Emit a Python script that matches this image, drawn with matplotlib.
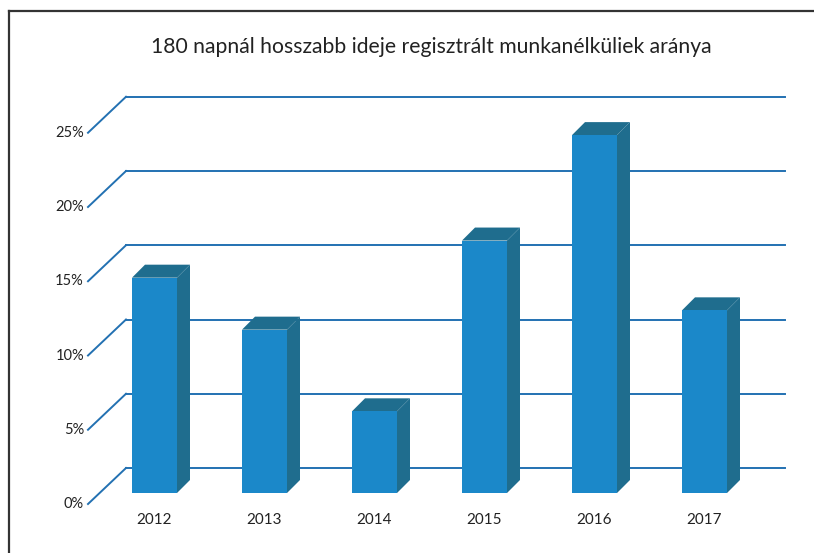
import numpy as np
import matplotlib
matplotlib.use('Agg')
import matplotlib.pyplot as plt
from matplotlib.patches import Polygon

years = ['2012', '2013', '2014', '2015', '2016', '2017']
values = [14.5, 11.0, 5.5, 17.0, 24.1, 12.3]   # %
ticks = [0, 5, 10, 15, 20, 25]
title = '180 napnál hosszabb ideje regisztrált munkanélküliek aránya'

front_col = '#1b88c9'
side_col = '#1f6d8e'
grid_col = '#2371b2'

# pixel scale of the 3d layout (1 category = 110 px, 1 % = 14.85 px)
W, H = 814, 553
sx, sy = 110.0, 14.85
x0, y0 = 154.5, 493.0          # centre of first bar, base of bar front face


def dx(px):
    return px / sx


def dy(px):
    return px / sy


plt.rcParams['font.family'] = ['Lato', 'DejaVu Sans']
fig = plt.figure(figsize=(W / 100, H / 100), dpi=100)
ax = fig.add_axes([0, 0, 1, 1])
ax.set_xlim(-x0 / sx, (W - x0) / sx)
ax.set_ylim(-(H - y0) / sy, y0 / sy)
ax.axis('off')

# back wall grid + left diagonals
back_l, back_r, back_up = dx(126 - x0), dx(785 - x0), dy(25)
front_l, front_dn = dx(88 - x0), dy(-11)
for t in ticks:
    ax.plot([back_l, back_r], [t + back_up, t + back_up], color=grid_col, lw=1.4, zorder=1)
    ax.plot([front_l, back_l], [t + front_dn, t + back_up], color=grid_col, lw=1.4, zorder=1)
    ax.text(dx(84 - x0), t + front_dn, f'{t}%', ha='right', va='center', fontsize=10.5, color='#222222')

# bars
hw, ddx, ddy = dx(22.5), dx(13), dy(13)
for i, (yr, v) in enumerate(zip(years, values)):
    l, r = i - hw, i + hw
    ax.add_patch(Polygon([(r, 0), (r + ddx, ddy), (r + ddx, v + ddy), (r, v)],
                         closed=True, fc=side_col, ec='none', zorder=3))
    ax.add_patch(Polygon([(l, v), (r, v), (r + ddx, v + ddy), (l + ddx, v + ddy)],
                         closed=True, fc=side_col, ec='none', zorder=3))
    ax.add_patch(Polygon([(l, 0), (r, 0), (r, v), (l, v)],
                         closed=True, fc=front_col, ec='none', zorder=4))
    ax.text(i, dy(-27), yr, ha='center', va='center', fontsize=11, color='#222222')

ax.text(dx(431 - x0), dy(493 - 47), title, ha='center', va='center', fontsize=15.2, color='#222222')

# outer frame
fig.add_artist(plt.Line2D([9 / W, 9 / W], [0, 1 - 11 / H], color='#333333', lw=1.6))
fig.add_artist(plt.Line2D([9 / W, 1], [1 - 11 / H, 1 - 11 / H], color='#333333', lw=1.6))

fig.savefig('out.png', dpi=100)
